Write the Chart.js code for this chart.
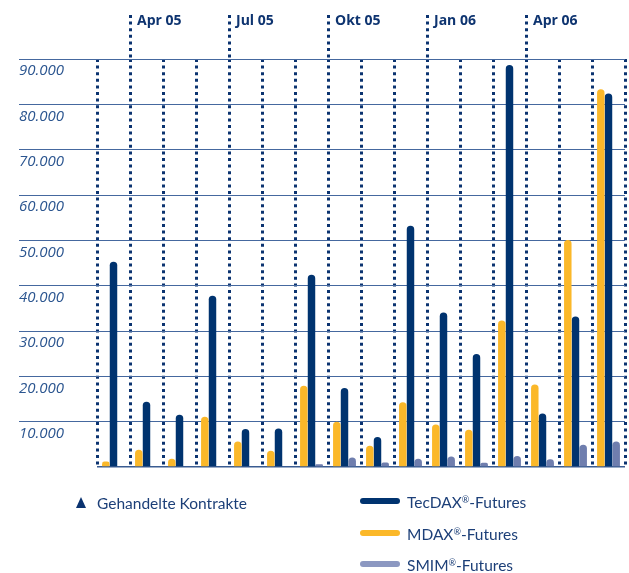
<!DOCTYPE html>
<html>
<head>
<meta charset="utf-8">
<script src="https://cdn.jsdelivr.net/npm/chart.js@4/dist/chart.umd.min.js"></script>
<style>
  body { margin: 0; background: #fff; }
  #wrap { position: relative; width: 629px; height: 573px; }
  #legend { position: absolute; left: 0; top: 0; width: 629px; height: 573px; pointer-events: none;
            font-family: Lato, "Open Sans", sans-serif; font-size: 15.5px; color: #1c3f78; }
  .lg { position: absolute; white-space: nowrap; line-height: 18px; }
  .sw { position: absolute; width: 40px; height: 6px; border-radius: 3px; }
  .tri { position: absolute; width: 0; height: 0; border-left: 5px solid transparent;
         border-right: 5px solid transparent; border-bottom: 11px solid #0b3370; }
</style>
</head>
<body>
<div id="wrap">
  <canvas id="chart" width="629" height="573"></canvas>
  <div id="legend"></div>
</div>
<script>
// months Mar 05 .. Jun 06
var months = ['Mär 05', 'Apr 05', 'Mai 05', 'Jun 05', 'Jul 05', 'Aug 05', 'Sep 05', 'Okt 05',
              'Nov 05', 'Dez 05', 'Jan 06', 'Feb 06', 'Mär 06', 'Apr 06', 'Mai 06', 'Jun 06'];
var shownMonths = ['Apr 05', 'Jul 05', 'Okt 05', 'Jan 06', 'Apr 06'];

var tecdax = [45300, 14400, 11500, 37800, 8400, 8500, 42400, 17400,
              6600, 53200, 34100, 24900, 88700, 11800, 33200, 82400];
var mdax   = [1200, 3800, 1800, 11100, 5600, 3600, 17900, 10000,
              4700, 14300, 9400, 8200, 32300, 18200, 50100, 83300];
var smim   = [0, 0, 0, 0, 0, 0, 600, 2100,
              1000, 1800, 2300, 950, 2400, 1700, 4900, 5600];

var seriesNames = ['TecDAX®-Futures', 'MDAX®-Futures', 'SMIM®-Futures'];
var colors = ['#00336f', '#fbb829', '#6f7eae'];
var legendColors = ['#00336f', '#fbb829', '#8c98c1'];

var navy = '#0b3370';
var fmt = function(v) { return String(v).replace(/\B(?=(\d{3})+(?!\d))/g, '.'); };

var barStyle = {
    borderRadius: { topLeft: 4, topRight: 4, bottomLeft: 0, bottomRight: 0 },
    borderSkipped: 'bottom',
    barPercentage: 0.97,
    categoryPercentage: 0.7
};

var data = {
    labels: months,
    datasets: [
        Object.assign({ label: seriesNames[1], data: mdax, backgroundColor: colors[1] }, barStyle),
        Object.assign({ label: seriesNames[0], data: tecdax, backgroundColor: colors[0] }, barStyle),
        Object.assign({ label: seriesNames[2], data: smim, backgroundColor: colors[2] }, barStyle)
    ]
};

var options = {
    responsive: false,
    animation: false,
    devicePixelRatio: 1,
    layout: { padding: { left: 19, right: 4, top: 0, bottom: 106 } },
    plugins: { legend: { display: false }, tooltip: { enabled: false } },
    scales: {
        x: {
            position: 'top',
            offset: true,
            afterFit: function(s) { s.height = 59; },
            grid: {
                offset: true,
                color: navy,
                lineWidth: 3,
                tickLength: 44,
                tickWidth: 3,
                tickBorderDash: [3, 3.6],
                tickColor: function(c) {
                    return c.tick && shownMonths.indexOf(months[c.index]) >= 0 ? navy : 'rgba(0,0,0,0)';
                }
            },
            border: { display: false, dash: [3, 3.6] },
            ticks: {
                autoSkip: false,
                maxRotation: 0,
                align: 'start',
                labelOffset: -9.5,
                padding: -14.5,
                color: '#0e3470',
                font: { family: 'Open Sans', size: 14, weight: 'bold' },
                callback: function(v, i) {
                    return shownMonths.indexOf(months[i]) >= 0 ? months[i] : '';
                }
            }
        },
        y: {
            min: 0,
            max: 90000,
            afterFit: function(s) { s.width = 78; },
            grid: {
                color: function(c) { return c.tick && c.tick.value === 0 ? '#3a5c91' : '#45689f'; },
                lineWidth: function(c) { return c.tick && c.tick.value === 0 ? 1.6 : 1; },
                tickLength: 78,
                tickColor: function(c) { return c.tick && c.tick.value === 0 ? 'rgba(0,0,0,0)' : '#45689f'; }
            },
            border: { display: false },
            ticks: {
                stepSize: 10000,
                crossAlign: 'far',
                labelOffset: 12,
                padding: 0,
                color: '#2c5690',
                font: { family: 'Open Sans', size: 15, style: 'italic' },
                callback: function(v) { return v === 0 ? '' : fmt(v); }
            }
        }
    }
};

var ctx = document.getElementById('chart').getContext('2d');
var chart = new Chart(ctx, { type: 'bar', data: data, options: options });

// legend
var lg = document.getElementById('legend');
var html = '<div class="tri" style="left:76px;top:497px;"></div>' +
           '<div class="lg" style="left:97px;top:494px;">Gehandelte Kontrakte</div>';
var rows = [501, 533, 564];
for (var i = 0; i < seriesNames.length; i++) {
    html += '<div class="sw" style="left:360px;top:' + (rows[i] - 3) + 'px;background:' + legendColors[i] + ';"></div>';
    html += '<div class="lg" style="left:407px;top:' + (rows[i] - 10) + 'px;">' +
            seriesNames[i].replace('®', '<sup style="font-size:9px;vertical-align:5px;">®</sup>') + '</div>';
}
lg.innerHTML = html;
</script>
</body>
</html>
